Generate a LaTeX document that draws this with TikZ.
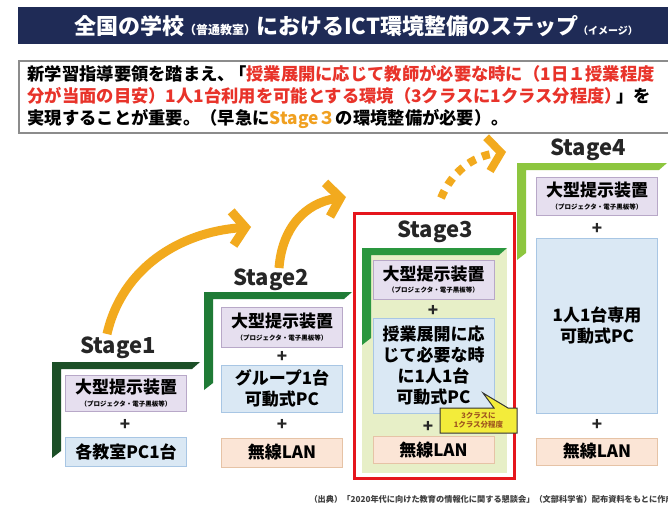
\documentclass[tikz,border=0pt]{standalone}
\usepackage{fontspec}
\setmainfont{Noto Sans CJK JP}
\usetikzlibrary{arrows.meta}
\definecolor{navy}{HTML}{1F2B56}
\definecolor{redtxt}{HTML}{E8332A}
\definecolor{orangetxt}{HTML}{F0A020}
\definecolor{arrowor}{HTML}{F2AA1E}
\definecolor{lavf}{HTML}{E6DFEF}
\definecolor{lavb}{HTML}{B8A8C8}
\definecolor{bluef}{HTML}{DAE8F4}
\definecolor{blueb}{HTML}{A8C6E4}
\definecolor{peachf}{HTML}{FBE5D6}
\definecolor{peachb}{HTML}{E6C3A6}
\definecolor{gA}{HTML}{1C4F27}
\definecolor{gB}{HTML}{1F7B36}
\definecolor{gC}{HTML}{2A973F}
\definecolor{gD}{HTML}{8DC63F}
\definecolor{s3fill}{HTML}{E7EFC7}
\definecolor{frame}{HTML}{E5161D}
\definecolor{callf}{HTML}{F3EC3A}
\definecolor{calltxt}{HTML}{A0561E}
\tikzset{
  presbox/.style={draw=lavb, fill=lavf, line width=0.9pt, minimum width=121pt, inner sep=0pt},
  pcbox/.style={draw=blueb, fill=bluef, line width=0.9pt, minimum width=121pt, inner sep=0pt, align=center, font=\bfseries\fontsize{17}{21}\selectfont},
  lanbox/.style={draw=peachb, fill=peachf, line width=0.9pt, minimum width=121pt, inner sep=0pt, font=\bfseries\fontsize{17}{20}\selectfont},
  stagelbl/.style={font=\bfseries\fontsize{22}{22}\selectfont, text=black!85},
  plussign/.style={font=\bfseries\fontsize{17}{17}\selectfont, text=black!85},
  infoline/.style={anchor=base west, font=\bfseries\fontsize{17.3}{17.3}\selectfont},
  orarrow/.style={draw=arrowor, line width=9pt, -{Straight Barb[length=13pt,width=34pt]}},
}
\newcommand{\presText}{\shortstack{\fontsize{17}{17}\selectfont 大型提示装置\\[2pt]\fontsize{6.5}{6.5}\selectfont （プロジェクタ・電子黒板等）}}
\begin{document}
\begin{tikzpicture}[x=1pt,y=-1pt, font=\bfseries]
\useasboundingbox (0,0) rectangle (668,511);
\clip (0,0) rectangle (668,511);
\fill[white] (0,0) rectangle (668,511);

% title bar
\fill[navy] (18,7) rectangle (668,44);
\node[text=white, font=\bfseries\fontsize{22}{22}\selectfont] (title) at (356,26)
  {全国の学校{\fontsize{12}{12}\selectfont（普通教室）}におけるICT環境整備のステップ{\fontsize{10}{10}\selectfont（イメージ）}};

% info box
\draw[black!45, line width=1.6pt] (19,61) rectangle (672,133);
\node[infoline] (l1) at (24,80)
  {新学習指導要領を踏まえ、\kern-6pt「\textcolor{redtxt}{授業展開に応じて教師が必要な時に（1日１授業程度}};
\node[infoline] (l2) at (24,102)
  {\textcolor{redtxt}{分が当面の目安）1人1台利用を可能とする環境（3クラスに1クラス分程度）}\kern-6pt」を};
\node[infoline] (l3) at (24,124)
  {実現することが重要。（早急に\textcolor{orangetxt}{Stage３}の環境整備が必要）。};

% arrows
\coordinate (s1) at (107,334);
\coordinate (e1) at (251,227);
\coordinate (s2) at (279,268);
\coordinate (e2) at (346,197);
\coordinate (s3) at (441,198);
\coordinate (e3) at (506,152);
\draw[orarrow] (s1) .. controls (122,268) and (180,232) .. (e1);
\draw[orarrow] (s2) .. controls (282,228) and (305,203) .. (e2);
\draw[orarrow, line width=8pt, dash pattern=on 8pt off 7pt] (s3) .. controls (452,172) and (472,156) .. (e3);

% ---------- Stage 1
\node[stagelbl] (st1) at (118,348) {Stage1};
\fill[gA] (52,362) -- (200,362) -- (192,369) -- (61,369) -- (61,451) -- (52,458) -- cycle;
\node[presbox, minimum height=36pt] (a1) at (126,393) {\presText};
\node[plussign] (p1) at (125,425) {+};
\node[pcbox, minimum height=29pt] (b1) at (126,451.5) {各教室PC1台};

% ---------- Stage 2
\node[stagelbl] (st2) at (271,280) {Stage2};
\fill[gB] (204,292) -- (352,292) -- (344,299) -- (213,299) -- (213,383) -- (204,390) -- cycle;
\node[presbox, minimum height=40pt] (a2) at (282,327) {\presText};
\node[plussign] (p2a) at (282,357) {+};
\node[pcbox, minimum height=47pt] (b2) at (282,388.5) {グループ1台\\可動式PC};
\node[plussign] (p2b) at (282,425) {+};
\node[lanbox, minimum height=29pt] (c2) at (282,452.5) {無線LAN};

% ---------- Stage 3
\fill[s3fill] (362,248) rectangle (507,473);
\fill[gC] (362,248) -- (507,248) -- (499,255) -- (371,255) -- (371,338) -- (362,345) -- cycle;
\node[stagelbl] (st3) at (435,232) {Stage3};
\node[presbox, minimum height=39pt] (a3) at (433.5,279.5) {\presText};
\node[plussign] (p3a) at (433,311) {+};
\node[pcbox, minimum height=95pt] (b3) at (433.5,365.5) {授業展開に応\\じて必要な時\\に1人1台\\可動式PC};
\node[plussign] (p3b) at (428,427) {+};
\node[lanbox, minimum height=27pt] (c3) at (433.5,450) {無線LAN};
\draw[frame, line width=3pt] (354,213) rectangle (514,478);
\filldraw[fill=callf, draw=black!80, line width=1pt] (440,408) -- (494,408) -- (483,393) -- (508,408) -- (517,408) -- (517,433) -- (440,433) -- cycle;
\node[align=center, text=calltxt, font=\bfseries\fontsize{7.5}{9}\selectfont] (call) at (478.5,420.5) {3クラスに\\1クラス分程度};

% ---------- Stage 4
\node[stagelbl] (st4) at (588,150) {Stage4};
\fill[gD] (517,163) -- (667,163) -- (659,170) -- (526,170) -- (526,253) -- (517,260) -- cycle;
\node[presbox, minimum height=38pt] (a4) at (597,196) {\presText};
\node[plussign] (p4a) at (597,229) {+};
\node[pcbox, minimum height=175pt] (b4) at (597,325.5) {1人1台専用\\可動式PC};
\node[plussign] (p4b) at (597,425) {+};
\node[lanbox, minimum height=27pt] (c4) at (597,451.5) {無線LAN};

% source
\node[anchor=west, text=black!75, font=\bfseries\fontsize{8.2}{8.2}\selectfont] (src) at (306,499)
  {（出典）「2020年代に向けた教育の情報化に関する懇談会」（文部科学省）配布資料をもとに作成};
\end{tikzpicture}
\end{document}
